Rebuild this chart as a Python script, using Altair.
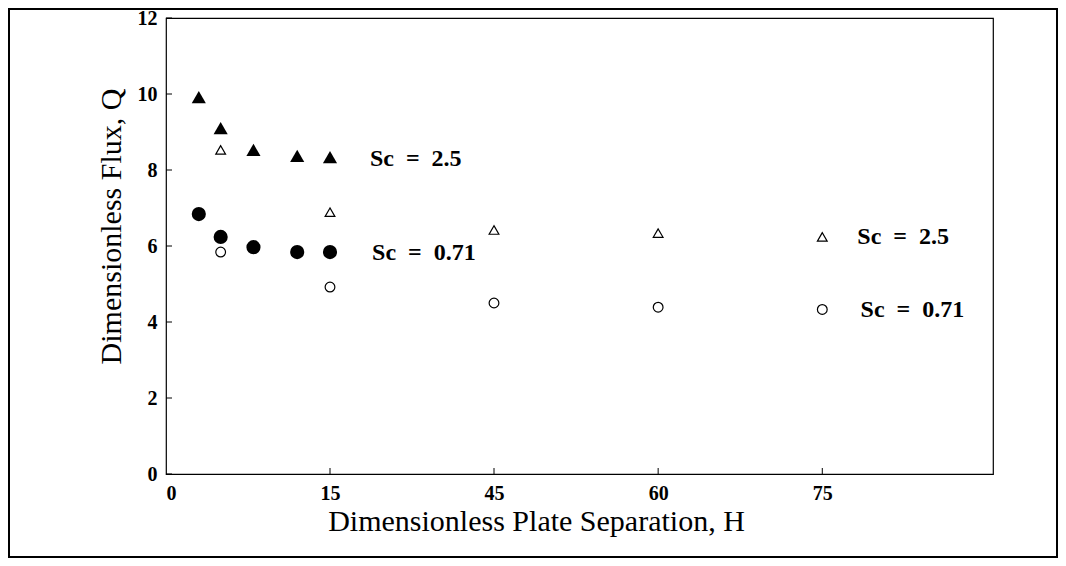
import altair as alt
import pandas as pd

# ---- data ----
H_filled = [3, 5, 8, 12, 15]
Q_tri_filled = [9.92, 9.10, 8.53, 8.37, 8.34]     # Sc = 2.5 (filled triangles)
Q_circ_filled = [6.84, 6.24, 5.97, 5.84, 5.84]    # Sc = 0.71 (filled circles)

H_open = [5, 15, 45, 60, 75]
Q_tri_open = [8.53, 6.89, 6.42, 6.34, 6.24]       # Sc = 2.5 (open triangles)
Q_circ_open = [5.84, 4.92, 4.50, 4.39, 4.33]      # Sc = 0.71 (open circles)

label_text = ["Sc\u00a0\u00a0=\u00a0\u00a02.5", "Sc\u00a0\u00a0=\u00a0\u00a00.71",
              "Sc\u00a0\u00a0=\u00a0\u00a02.5", "Sc\u00a0\u00a0=\u00a0\u00a00.71"]
label_H = [22.3, 22.7, 78.2, 78.5]
label_Q = [8.30, 5.82, 6.24, 4.32]

x_ticks = [0, 15, 45, 60, 75]
y_ticks = [0, 2, 4, 6, 8, 10, 12]

FONT = "Liberation Serif"
W, Hh = 827, 456

filled_df = pd.DataFrame({
    "H": H_filled * 2,
    "Q": Q_tri_filled + Q_circ_filled,
    "shape": ["triangle-up"] * len(H_filled) + ["circle"] * len(H_filled),
})
open_df = pd.DataFrame({
    "H": H_open * 2,
    "Q": Q_tri_open + Q_circ_open,
    "shape": ["triangle-up"] * len(H_open) + ["circle"] * len(H_open),
})
lab_df = pd.DataFrame({"H": label_H, "Q": label_Q, "text": label_text})
xt_df = pd.DataFrame({"H": x_ticks[1:]})
yt_df = pd.DataFrame({"Q": y_ticks})

xscale = alt.Scale(domain=[0, 15, 45, 90.6], range=[0, 164, 328, W])
yscale = alt.Scale(domain=[0, 12], nice=False, zero=False)

xaxis = alt.Axis(values=x_ticks, ticks=False, domain=False, grid=False,
                 labelFont=FONT, labelFontSize=20, labelFontWeight="bold",
                 labelPadding=9, labelColor="black",
                 title="Dimensionless Plate Separation, H",
                 titleFont=FONT, titleFontSize=30, titleFontWeight="normal",
                 titleColor="black", titleX=370, titleY=56,
                 titleBaseline="alphabetic", titleAlign="center")
yaxis = alt.Axis(values=y_ticks, ticks=False, domain=False, grid=False,
                 labelFont=FONT, labelFontSize=20, labelFontWeight="bold",
                 labelPadding=9, labelColor="black",
                 title="Dimensionless Flux, Q",
                 titleFont=FONT, titleFontSize=30, titleFontWeight="normal",
                 titleColor="black", titleX=-46, titleY=208,
                 titleBaseline="alphabetic", titleAlign="center", titleAngle=270)

base_x = alt.X("H:Q", scale=xscale, axis=xaxis)
base_y = alt.Y("Q:Q", scale=yscale, axis=yaxis)

filled = alt.Chart(filled_df).mark_point(filled=True, color="black", opacity=1).encode(
    x=base_x, y=base_y,
    shape=alt.Shape("shape:N", scale=None, legend=None),
    size=alt.value(200),
)
opened = alt.Chart(open_df).mark_point(filled=False, color="black", opacity=1,
                                       strokeWidth=1.2).encode(
    x=alt.X("H:Q", scale=xscale), y=alt.Y("Q:Q", scale=yscale),
    shape=alt.Shape("shape:N", scale=None, legend=None),
    size=alt.value(95),
)
labels = alt.Chart(lab_df).mark_text(align="left", baseline="middle", font=FONT,
                                     fontSize=24, fontWeight="bold", color="black").encode(
    x=alt.X("H:Q", scale=xscale), y=alt.Y("Q:Q", scale=yscale), text="text:N")

xticks = alt.Chart(xt_df).mark_rule(color="black", strokeWidth=1).encode(
    x=alt.X("H:Q", scale=xscale), y=alt.value(Hh), y2=alt.value(Hh - 6))
yticks = alt.Chart(yt_df).mark_rule(color="black", strokeWidth=1).encode(
    y=alt.Y("Q:Q", scale=yscale), x=alt.value(0), x2=alt.value(6))

frame = alt.Chart(alt.Data(values=[{}])).mark_rect(
    fillOpacity=0, stroke="black", strokeWidth=2).encode(
    x=alt.value(-157), x2=alt.value(891), y=alt.value(-9), y2=alt.value(539))

chart = alt.layer(frame, xticks, yticks, opened, filled, labels).properties(
    width=W, height=Hh, padding=0
).configure(background="white").configure_view(stroke="black", strokeWidth=1.2)

chart.save("out.html", embed_options={"renderer": "svg", "actions": False})
